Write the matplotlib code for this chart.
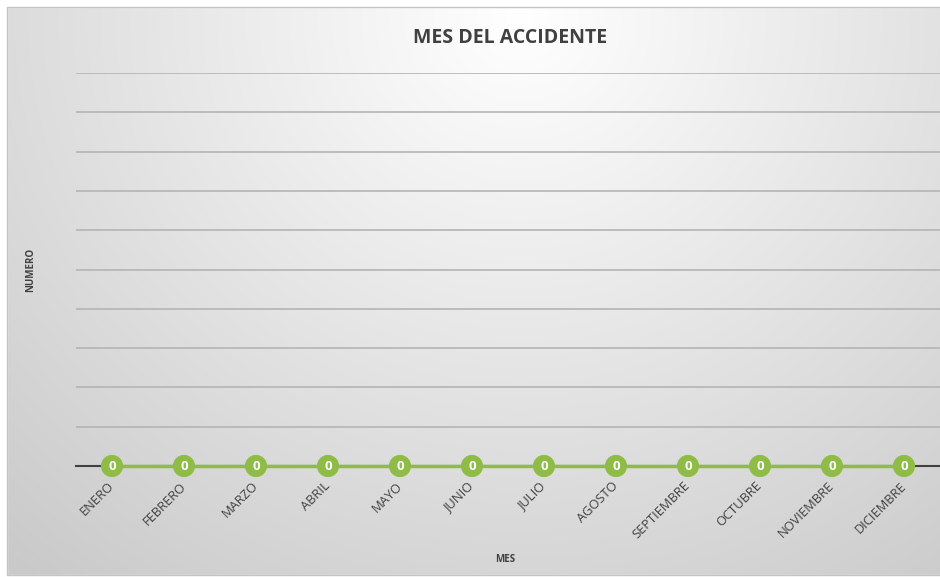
import numpy as np
import matplotlib.pyplot as plt
from matplotlib.patches import Rectangle

meses = ['ENERO', 'FEBRERO', 'MARZO', 'ABRIL', 'MAYO', 'JUNIO', 'JULIO',
         'AGOSTO', 'SEPTIEMBRE', 'OCTUBRE', 'NOVIEMBRE', 'DICIEMBRE']
accidentes = [0, 0, 0, 0, 0, 0, 0, 0, 0, 0, 0, 0]
y_max = 10

plt.rcParams['font.family'] = ['Open Sans', 'DejaVu Sans']

W, H = 940, 577
fig = plt.figure(figsize=(W / 100, H / 100), dpi=100)

# radial grey background, lightest near the top centre
bg = fig.add_axes([0, 0, 1, 1], zorder=-10)
yy, xx = np.mgrid[0:H, 0:W]
r = np.sqrt(((xx - 520) / 700.0) ** 2 + ((yy - 20) / 650.0) ** 2)
shade = np.clip(1.0 - 0.19 * r, 0.79, 1.0)
img = np.dstack([shade, shade, shade])
bg.imshow(img, extent=[0, W, H, 0], aspect='auto', interpolation='bilinear')
bg.add_patch(Rectangle((0, 0), W, 7, color='white'))
bg.add_patch(Rectangle((0, 0), 7, H, color='white'))
bg.add_patch(Rectangle((0, 575), W, 2, color='white'))
bg.add_patch(Rectangle((7, 7), 940, 568, fill=False, edgecolor='#c4c4c4', lw=1))
bg.set_xlim(0, W)
bg.set_ylim(H, 0)
bg.axis('off')

ax = fig.add_axes([76 / W, 1 - 466 / H, 864 / W, (466 - 73) / H])
ax.patch.set_alpha(0)
x = np.arange(len(meses))
ax.set_xlim(-0.5, len(meses) - 0.5)
ax.set_ylim(0, y_max)
ax.set_yticks(range(1, y_max + 1))
ax.set_yticklabels([])
ax.tick_params(axis='y', length=0)
ax.grid(axis='y', color='#b4b4b4', lw=1.2)
for s in ['top', 'right', 'left']:
    ax.spines[s].set_visible(False)
ax.spines['bottom'].set_color('#404040')
ax.spines['bottom'].set_linewidth(1.5)
ax.spines['bottom'].set_zorder(2)

ax.plot(x, accidentes, color='#8fbc45', lw=2.5, zorder=3, clip_on=False)
ax.scatter(x, accidentes, s=255, color='#8fbc45', edgecolor='none', zorder=4, clip_on=False)
for xi, v in zip(x, accidentes):
    ax.text(xi, v, f'{v}', ha='center', va='center', color='white',
            fontsize=9.5, fontweight='bold', zorder=5)

ax.set_xticks(x)
ax.set_xticklabels(meses, rotation=45, ha='right', va='center',
                   rotation_mode='anchor', fontsize=9.3, color='#404040')
ax.tick_params(axis='x', length=0, pad=13)

fig.text(510 / W, 1 - 38 / H, 'MES DEL ACCIDENTE', ha='center', va='center',
         fontsize=14, fontweight='bold', color='#404040')
fig.text(31 / W, 1 - 270 / H, 'NUMERO', ha='center', va='center', rotation=90,
         fontsize=7, fontweight='bold', color='#404040')
fig.text(505 / W, 1 - 560 / H, 'MES', ha='center', va='center',
         fontsize=7, fontweight='bold', color='#404040')

fig.savefig('out.png', dpi=100)
